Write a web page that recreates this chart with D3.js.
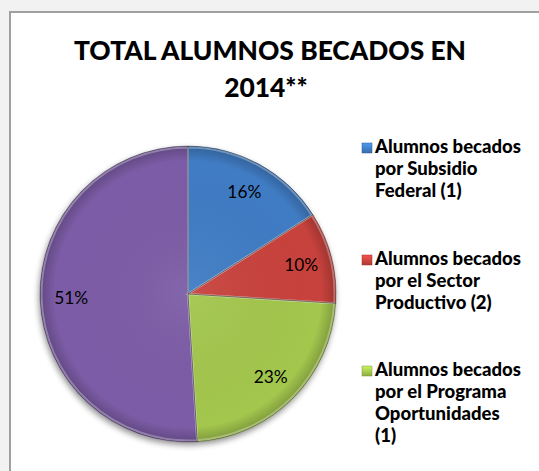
<!DOCTYPE html>
<html><head><meta charset="utf-8">
<script src="https://cdn.jsdelivr.net/npm/d3@7"></script>
<style>
html,body{margin:0;padding:0;background:#f2f2f2;}
svg{display:block;}
</style></head>
<body>
<script>
// ---- data ----
const titleLines = ["TOTAL ALUMNOS BECADOS EN", "2014**"];
const sliceValues = [16, 10, 23, 51];
const sliceLabels = ["16%", "10%", "23%", "51%"];
const sliceColors = ["#3f7cc4", "#c8423d", "#a3c64d", "#7b5ca6"];
const legendEntries = [
  ["Alumnos becados", "por Subsidio", "Federal (1)"],
  ["Alumnos becados", "por el Sector", "Productivo (2)"],
  ["Alumnos becados", "por el Programa", "Oportunidades", "(1)"]
];

const W = 539, H = 471;
const FONT = "Lato, 'Open Sans', 'DejaVu Sans', sans-serif";
const svg = d3.select("body").append("svg").attr("width", W).attr("height", H);
const defs = svg.append("defs");

// chart area box
svg.append("rect").attr("x", 10).attr("y", 12).attr("width", W).attr("height", H)
  .attr("fill", "#fff").attr("stroke", "#a0a0a0").attr("stroke-width", 2);

function fitText(sel, targetW) {
  const n = sel.node();
  const fs = parseFloat(sel.attr("font-size"));
  const w = n.getComputedTextLength();
  sel.attr("font-size", (fs * targetW / w).toFixed(2));
}

// title
const t1 = svg.append("text").attr("x", 270).attr("y", 60).attr("text-anchor", "middle")
  .attr("font-family", FONT).attr("font-weight", "900").attr("font-size", 28).attr("fill", "#000")
  .text(titleLines[0]);
fitText(t1, 392);
const titleSize = t1.attr("font-size");
svg.append("text").attr("x", 266).attr("y", 97).attr("text-anchor", "middle")
  .attr("font-family", FONT).attr("font-weight", "900").attr("font-size", titleSize).attr("fill", "#000")
  .text(titleLines[1]);

// pie
const cx = 188, cy = 294, R = 148;
const pie = d3.pie().sort(null).value(d => d);
const arcs = pie(sliceValues);
const arc = d3.arc().innerRadius(0).outerRadius(R);
const labelArc = d3.arc().innerRadius(R * 0.79).outerRadius(R * 0.79);

const shadow = defs.append("filter").attr("id", "shadow").attr("x", "-20%").attr("y", "-20%").attr("width", "140%").attr("height", "140%");
shadow.append("feGaussianBlur").attr("in", "SourceAlpha").attr("stdDeviation", 3);
shadow.append("feOffset").attr("dx", -1).attr("dy", 3).attr("result", "ob");
shadow.append("feComponentTransfer").append("feFuncA").attr("type", "linear").attr("slope", 0.45);
const fm = shadow.append("feMerge");
fm.append("feMergeNode");
fm.append("feMergeNode").attr("in", "SourceGraphic");

const rim = defs.append("radialGradient").attr("id", "rim").attr("gradientUnits", "userSpaceOnUse")
  .attr("cx", 0).attr("cy", 0).attr("r", R);
rim.append("stop").attr("offset", "0%").attr("stop-color", "#fff").attr("stop-opacity", 0.06);
rim.append("stop").attr("offset", "90%").attr("stop-color", "#000").attr("stop-opacity", 0);
rim.append("stop").attr("offset", "100%").attr("stop-color", "#000").attr("stop-opacity", 0.22);

const g = svg.append("g").attr("transform", `translate(${cx},${cy})`);
const pg = g.append("g").attr("filter", "url(#shadow)");
pg.selectAll("path.slice").data(arcs).join("path").attr("class", "slice")
  .attr("d", arc).attr("fill", (d, i) => sliceColors[i]);
g.selectAll("path.rim").data(arcs).join("path").attr("class", "rim")
  .attr("d", arc).attr("fill", "url(#rim)");
g.selectAll("path.edge").data(arcs).join("path").attr("class", "edge")
  .attr("d", d3.arc().innerRadius(0).outerRadius(R - 1.5))
  .attr("fill", "none").attr("stroke", "rgba(255,255,255,0.3)").attr("stroke-width", 2);
g.selectAll("path.line").data(arcs).join("path").attr("class", "line")
  .attr("d", arc).attr("fill", "none").attr("stroke", "rgba(0,0,0,0.35)").attr("stroke-width", 0.8);

const lbls = g.selectAll("text.lbl").data(arcs).join("text").attr("class", "lbl")
  .attr("transform", d => `translate(${labelArc.centroid(d)})`)
  .attr("text-anchor", "middle").attr("dy", "0.36em")
  .attr("font-family", FONT).attr("font-size", 17).attr("fill", "#000")
  .text((d, i) => sliceLabels[i]);
const l0 = lbls.filter((d, i) => i === 0);
fitText(l0, 34);
lbls.attr("font-size", l0.attr("font-size"));

// legend
const legY = [153, 265, 376];
const lineH = 22;
const lg = svg.append("g");
legendEntries.forEach((lines, i) => {
  const c = d3.color(sliceColors[i]);
  const gid = "lgrad" + i;
  const lgd = defs.append("linearGradient").attr("id", gid).attr("x1", 0).attr("y1", 0).attr("x2", 0).attr("y2", 1);
  lgd.append("stop").attr("offset", "0%").attr("stop-color", c.brighter(0.6));
  lgd.append("stop").attr("offset", "100%").attr("stop-color", c.darker(0.4));
  lg.append("rect").attr("x", 362).attr("y", legY[i] - 10).attr("width", 10).attr("height", 10)
    .attr("fill", `url(#${gid})`).attr("stroke", c.darker(0.8)).attr("stroke-width", 0.5);
  const tx = lg.append("text").attr("font-family", FONT).attr("font-weight", "900")
    .attr("font-size", 17).attr("fill", "#000");
  lines.forEach((ln, j) => {
    tx.append("tspan").attr("x", 375).attr("y", legY[i] + j * lineH).text(ln);
  });
});
const probe = lg.append("text").attr("font-family", FONT).attr("font-weight", "900").attr("font-size", 17).text(legendEntries[0][0]);
fitText(probe, 146);
const lfs = probe.attr("font-size");
probe.remove();
lg.selectAll("text").attr("font-size", lfs);
</script>
</body></html>
